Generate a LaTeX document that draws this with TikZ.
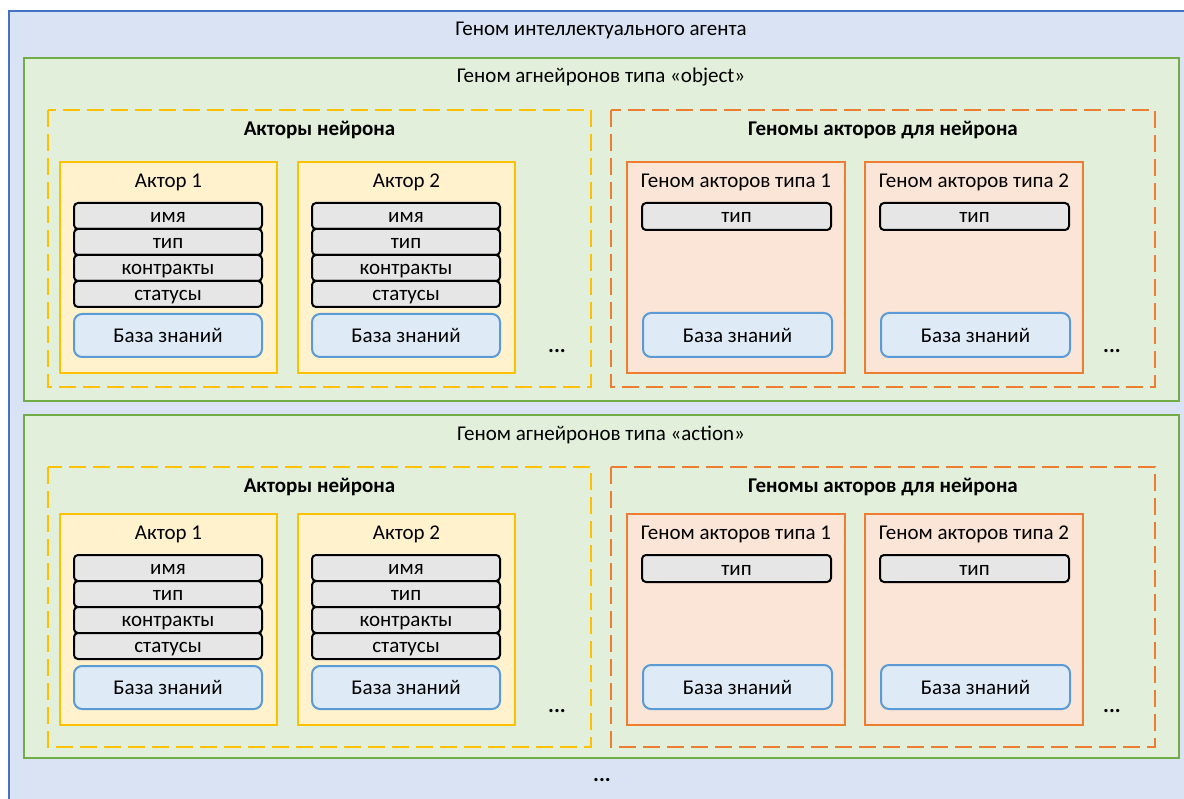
\documentclass[tikz,border=0pt]{standalone}
\usepackage{fontspec}
\setmainfont{Carlito}
\definecolor{agentfill}{HTML}{DAE3F3}
\definecolor{agentline}{HTML}{4472C4}
\definecolor{secfill}{HTML}{E2EFDA}
\definecolor{secline}{HTML}{70AD47}
\definecolor{actline}{HTML}{FFC000}
\definecolor{actfill}{HTML}{FFF2CC}
\definecolor{genline}{HTML}{ED7D31}
\definecolor{genfill}{HTML}{FBE5D6}
\definecolor{fieldfill}{HTML}{E7E6E6}
\definecolor{kbfill}{HTML}{DEEBF7}
\definecolor{kbline}{HTML}{5B9BD5}

\begin{document}
\begin{tikzpicture}[x=1pt,y=-1pt,
  every node/.style={font=\fontsize{21}{24}\selectfont},
  agentbox/.style={draw=agentline, fill=agentfill, line width=2pt},
  secbox/.style={draw=secline, fill=secfill, line width=2.5pt},
  actgroup/.style={draw=actline, line width=2.5pt, dash pattern=on 17pt off 7pt},
  gengroup/.style={draw=genline, line width=2.5pt, dash pattern=on 17pt off 7pt},
  actbox/.style={draw=actline, fill=actfill, line width=2pt},
  genbox/.style={draw=genline, fill=genfill, line width=2pt},
  label/.style={yshift=-1.5pt},
  heading/.style={yshift=-1pt, font=\fontsize{21}{24}\selectfont\bfseries},
  field/.style={draw=black, fill=fieldfill, line width=2pt, rounded corners=4pt,
    minimum width=188pt, minimum height=26pt, inner sep=0pt,
    text height=13pt, text depth=0pt},
  kb/.style={draw=kbline, fill=kbfill, line width=2pt, rounded corners=8pt,
    minimum width=188pt, minimum height=43pt, inner sep=0pt},
  dots/.style={font=\fontsize{22}{24}\selectfont\bfseries}]

\useasboundingbox (0,0) rectangle (1184,799);
\clip (0,0) rectangle (1184,799);

\draw[agentbox] (9,11) rectangle (1200,820);
\node[label] (agent) at (601,29) {Геном интеллектуального агента};

% one block per type of agneuron
\foreach \sec/\kind/\gy/\gb/\dy/\db/\oy in {s1/object/58/401/110/387/0, s2/action/415/758/467/747/352} {
  \draw[secbox] (24,\gy) rectangle (1179,\gb);
  \node[label] (\sec-title) at (601,\gy+18) {Геном агнейронов типа «\kind»};

  \draw[actgroup] (48,\dy) rectangle (591,\db);
  \node[heading] (\sec-acthead) at (319.5,\dy+19) {Акторы нейрона};
  \draw[gengroup] (611,\dy) rectangle (1155,\db);
  \node[heading] (\sec-genhead) at (883,\dy+19) {Геномы акторов для нейрона};

  % actors
  \foreach \i/\ax in {1/60, 2/298} {
    \draw[actbox] (\ax,162+\oy) rectangle ++(217,211);
    \node[label] (\sec-a\i) at (\ax+108.5,181+\oy) {Актор \i};
    \foreach \f/\fname [count=\k] in {name/имя, type/тип, contract/контракты, status/статусы} {
      \node[field] (\sec-a\i-\f) at (\ax+108,190+26*\k+\oy) {\fname};
    }
    \node[kb] (\sec-a\i-kb) at (\ax+108,335.5+\oy) {База знаний};
  }
  \node[dots] (\sec-adots) at (557,\db-36) {...};

  % genomes of actors
  \foreach \i/\gx in {1/627, 2/865} {
    \draw[genbox] (\gx,162+\oy) rectangle ++(218,211);
    \node[label] (\sec-g\i) at (\gx+109,181+\oy) {Геном акторов типа \i};
    \node[field, minimum width=189pt, minimum height=27pt] (\sec-g\i-type) at (\gx+109.5,216.5+\oy) {тип};
    \node[kb, minimum width=189pt, minimum height=44pt] (\sec-g\i-kb) at (\gx+110.5,335+\oy) {База знаний};
  }
  \node[dots] (\sec-gdots) at (1112,\db-36) {...};
}

\node[dots] (moredots) at (602,780) {...};

\end{tikzpicture}
\end{document}
